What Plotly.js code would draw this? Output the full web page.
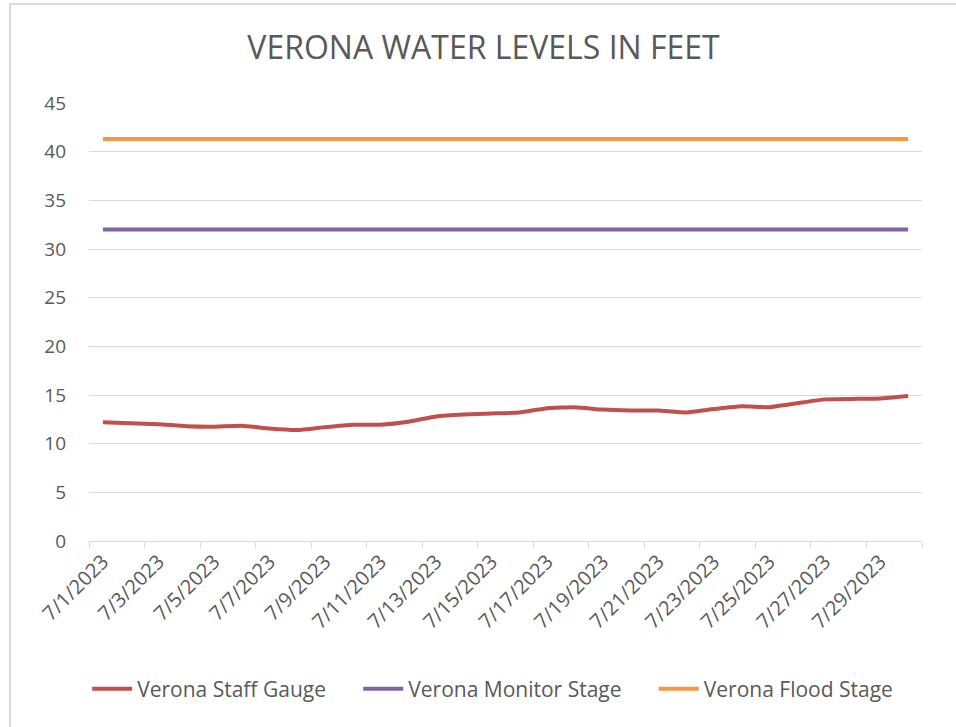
<!DOCTYPE html>
<html>
<head>
<meta charset="utf-8">
<script src="https://cdn.plot.ly/plotly-3.0.1.min.js"></script>
<style>
  html, body { margin: 0; padding: 0; background: #ffffff; overflow: hidden; }
  #chart { position: absolute; left: 0; top: 0; width: 956px; height: 727px; }
  #frame { position: absolute; left: 9px; top: 3px; width: 980px; height: 760px;
           border: 2px solid #d9d9d9; pointer-events: none; }
</style>
</head>
<body>
<div id="chart"></div>
<div id="frame"></div>
<script>
/* Verona water levels, July 2023 */

const dates = [
  '7/1/2023', '7/2/2023', '7/3/2023', '7/4/2023', '7/5/2023', '7/6/2023',
  '7/7/2023', '7/8/2023', '7/9/2023', '7/10/2023', '7/11/2023', '7/12/2023',
  '7/13/2023', '7/14/2023', '7/15/2023', '7/16/2023', '7/17/2023', '7/18/2023',
  '7/19/2023', '7/20/2023', '7/21/2023', '7/22/2023', '7/23/2023', '7/24/2023',
  '7/25/2023', '7/26/2023', '7/27/2023', '7/28/2023', '7/29/2023', '7/30/2023'
];

const staffGauge = [
  12.2, 12.1, 12.0, 11.8, 11.75, 11.85, 11.55, 11.4, 11.7, 11.95,
  11.95, 12.25, 12.8, 13.0, 13.1, 13.2, 13.65, 13.75, 13.5, 13.4,
  13.4, 13.2, 13.55, 13.85, 13.75, 14.15, 14.55, 14.6, 14.65, 14.9
];

const monitorStage = dates.map(() => 32);   // constant stage line
const floodStage = dates.map(() => 41.3);   // constant stage line

const seriesNames = ['Verona Staff Gauge', 'Verona Monitor Stage', 'Verona Flood Stage'];
const seriesColors = ['#c0504d', '#8064a2', '#f79646'];

const textColor = '#595959';
const gridColor = '#d9d9d9';
const fontFamily = '"Open Sans", "Noto Sans", sans-serif';
const legendPad = '\u00a0\u00a0\u00a0\u00a0\u00a0'; // widen gap between legend entries

const makeTrace = function(name, y, color, smooth) {
  return {
    name: name,
    x: dates,
    y: y,
    type: 'scatter',
    mode: 'lines',
    line: {
      color: color,
      width: 4,
      shape: smooth ? 'spline' : 'linear',
      smoothing: 0.4,
    },
    hoverinfo: 'x+y',
  };
};

const data = [
  makeTrace(seriesNames[0] + legendPad, staffGauge, seriesColors[0], true),
  makeTrace(seriesNames[1] + legendPad, monitorStage, seriesColors[1], false),
  makeTrace(seriesNames[2], floodStage, seriesColors[2], false),
];

const layout = {
  width: 956,
  height: 727,
  paper_bgcolor: '#ffffff',
  plot_bgcolor: '#ffffff',
  font: { family: fontFamily, color: textColor, size: 19 },
  title: {
    text: 'VERONA WATER LEVELS IN FEET',
    font: { family: fontFamily, size: 32, color: textColor },
    x: 0.5058,
    xanchor: 'center',
    y: 0.934,
    yanchor: 'middle',
  },
  margin: { l: 89, r: 34, t: 103, b: 186 },
  showlegend: true,
  legend: {
    orientation: 'h',
    x: 0.4846,
    xanchor: 'center',
    y: -0.338,
    yanchor: 'middle',
    font: { size: 21, color: textColor },
    itemwidth: 40,
    traceorder: 'normal',
  },
  xaxis: {
    type: 'category',
    range: [-0.5, 29.5],
    tickmode: 'linear',
    tick0: 0,
    dtick: 2,
    tickson: 'boundaries',
    ticks: 'outside',
    ticklen: 6,
    tickcolor: gridColor,
    tickwidth: 1,
    tickangle: -45,
    tickfont: { size: 20, color: textColor },
    showline: true,
    linecolor: gridColor,
    linewidth: 1,
    showgrid: false,
    zeroline: false,
    fixedrange: true,
  },
  yaxis: {
    range: [0, 45],
    tickmode: 'linear',
    tick0: 0,
    dtick: 5,
    showgrid: true,
    gridcolor: gridColor,
    gridwidth: 1,
    zeroline: false,
    showline: false,
    ticks: '',
    ticklabelstandoff: 22,
    tickfont: { size: 19, color: textColor },
    fixedrange: true,
  },
};

const config = {
  displayModeBar: false,
  staticPlot: false,
};

Plotly.newPlot('chart', data, layout, config);
</script>
</body>
</html>
